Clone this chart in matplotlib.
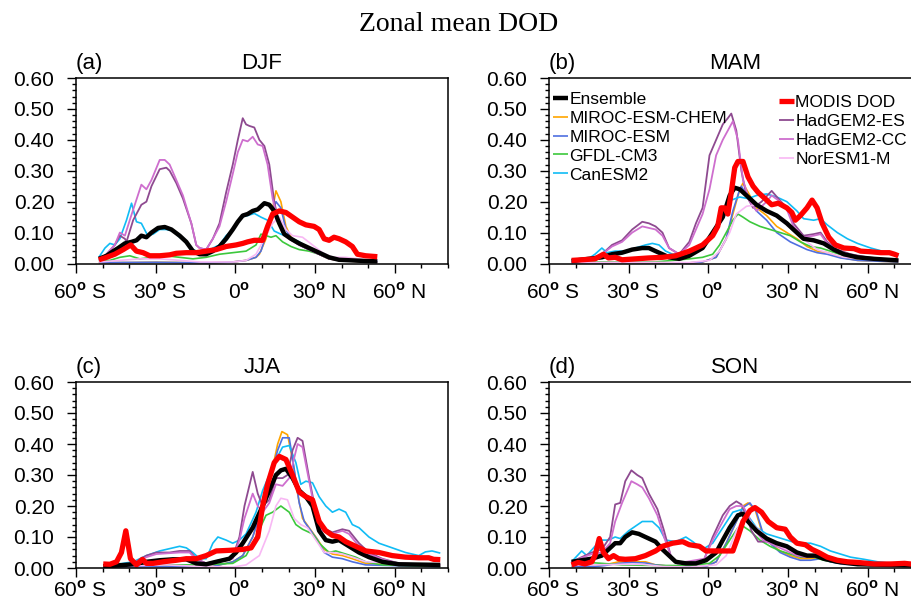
import matplotlib
matplotlib.use('Agg')
import matplotlib.pyplot as plt
import matplotlib.transforms as mtransforms
from matplotlib.ticker import MultipleLocator, FixedLocator

plt.rcParams['font.family'] = ['Liberation Sans', 'DejaVu Sans']
plt.rcParams['mathtext.fontset'] = 'custom'
plt.rcParams['mathtext.rm'] = 'Liberation Sans'
plt.rcParams['mathtext.bf'] = 'Liberation Sans:bold'

# ---------------- data: (latitude, DOD) pairs ----------------
# DJF
DJF_ES = [(-51.4,0.01),(-48.5,0.03),(-45.4,0.06),(-43.5,0.09),(-41.6,0.08),(-41,0.07),(-38.5,0.14),(-35.4,0.19),(-33.5,0.20),(-31.6,0.25),(-28.5,0.305),(-26,0.31),(-24.75,0.30),(-22.25,0.26),(-19.75,0.21),(-16.6,0.13),(-14.75,0.06),(-13.5,0.05),(-11,0.045),(-8.5,0.08),(-6,0.13),(-3.5,0.23),(-1,0.32),(0.9,0.40),(2.75,0.47),(4,0.45),(5.25,0.445),(7.1,0.44),(9,0.40),(10.9,0.38),(12.75,0.32),(14.6,0.20),(15.9,0.15),(17.75,0.10),(20.25,0.08),(24,0.06),(27.75,0.045),(31.5,0.03),(35.25,0.015),(39,0.01),(44,0.008),(49,0.005),(53.4,0.005)]
DJF_CC = [(-51.4,0.01),(-48.5,0.03),(-45.4,0.06),(-43.5,0.10),(-41.6,0.09),(-39.4,0.15),(-35.4,0.255),(-33.5,0.24),(-31.6,0.27),(-28.5,0.335),(-26.6,0.335),(-24.75,0.32),(-22.25,0.27),(-19.75,0.22),(-16.6,0.13),(-14.75,0.06),(-13.5,0.05),(-11,0.045),(-8.5,0.08),(-6,0.12),(-3.5,0.20),(-1,0.29),(0.9,0.36),(2.75,0.40),(4.6,0.395),(6.5,0.41),(8.4,0.385),(10.25,0.38),(12.1,0.32),(14,0.21),(15.9,0.14),(17.75,0.10),(20.25,0.08),(24,0.06),(27.75,0.045),(31.5,0.03),(35.25,0.016),(39,0.012),(44,0.01),(49,0.006),(53.4,0.005)]
DJF_ENS = [(-51.4,0.015),(-48.5,0.025),(-46,0.04),(-44.1,0.05),(-41.6,0.065),(-39.1,0.07),(-37.25,0.075),(-35.4,0.09),(-33.5,0.085),(-31.6,0.10),(-29.1,0.115),(-26.6,0.118),(-24.1,0.11),(-21,0.09),(-18.5,0.07),(-16,0.04),(-13.5,0.03),(-11,0.03),(-8.5,0.04),(-6,0.055),(-3.5,0.08),(-1,0.11),(0.9,0.135),(2.75,0.155),(4.6,0.16),(6.5,0.17),(8.4,0.175),(10.9,0.195),(12.75,0.19),(14.6,0.17),(16.5,0.13),(18.4,0.095),(20.9,0.08),(24,0.065),(27.75,0.05),(31.5,0.035),(35.25,0.02),(39,0.012),(44,0.01),(49,0.008),(53.4,0.007)]
DJF_CAN = [(-51.4,0.02),(-49.1,0.05),(-47.25,0.065),(-45.4,0.06),(-43.5,0.08),(-41,0.14),(-39.1,0.195),(-37.25,0.135),(-35.4,0.13),(-33,0.09),(-31,0.095),(-28.5,0.11),(-26,0.11),(-23.5,0.105),(-21,0.085),(-18.5,0.07),(-16,0.045),(-13.5,0.035),(-11,0.035),(-8.5,0.05),(-6,0.06),(-3.5,0.09),(-1,0.11),(2.1,0.15),(4.6,0.155),(7.1,0.162),(9.6,0.15),(12.1,0.14),(14.6,0.105),(17.1,0.095),(20.25,0.085),(24,0.07),(27.75,0.05),(31.5,0.035),(35.25,0.02),(40.25,0.012),(53.4,0.007)]
DJF_MODIS = [(-51.4,0.012),(-48.5,0.02),(-45.4,0.03),(-42.25,0.045),(-39.4,0.06),(-37.25,0.04),(-34.75,0.035),(-32.25,0.025),(-28.5,0.025),(-24.75,0.028),(-22.25,0.033),(-18.5,0.035),(-14.75,0.035),(-11,0.04),(-7.25,0.045),(-3.5,0.055),(0.25,0.06),(2.75,0.065),(4.6,0.07),(7.1,0.075),(10.25,0.075),(12.1,0.12),(14,0.16),(16.5,0.17),(19,0.165),(21.5,0.15),(24,0.135),(26.5,0.125),(29.6,0.12),(31.5,0.11),(33.4,0.08),(35.25,0.075),(37.1,0.085),(39,0.08),(41.5,0.07),(44,0.055),(45.9,0.03),(49,0.025),(53.4,0.022)]
DJF_CHEM = [(-51.4,0.003),(-40,0.003),(-30,0.004),(-20,0.003),(-10,0.002),(-1,0.005),(4,0.01),(7.75,0.02),(9,0.03),(11.5,0.08),(13.4,0.15),(15.25,0.235),(17.1,0.20),(19,0.12),(20.9,0.085),(24,0.065),(27.75,0.045),(31.5,0.03),(35.25,0.015),(41.5,0.008),(53.4,0.005)]
DJF_MIROC = [(-51.4,0.003),(-30,0.004),(-10,0.002),(-1,0.005),(4,0.01),(7.75,0.02),(9.6,0.04),(11.5,0.09),(13.4,0.15),(15.25,0.20),(17.1,0.18),(19,0.11),(20.9,0.08),(24,0.06),(27.75,0.045),(31.5,0.03),(35.25,0.018),(41.5,0.01),(53.4,0.006)]
DJF_GFDL = [(-51.4,0.01),(-47.25,0.01),(-43.5,0.02),(-39.75,0.025),(-36,0.015),(-31,0.02),(-26,0.025),(-21,0.02),(-16,0.015),(-11,0.02),(-6,0.03),(-1,0.035),(4,0.04),(7.75,0.06),(9.6,0.095),(11.5,0.09),(13.4,0.085),(15.25,0.09),(17.75,0.07),(20.9,0.055),(24,0.045),(27.75,0.04),(31.5,0.03),(35.25,0.015),(44,0.008),(53.4,0.005)]
DJF_NOR = [(-51.4,0.005),(-43.5,0.01),(-36,0.015),(-28.5,0.015),(-21,0.01),(-13.5,0.005),(-1,0.005),(4,0.01),(7.75,0.03),(11.5,0.09),(14,0.13),(16.5,0.15),(19,0.11),(21.5,0.09),(25.25,0.085),(29,0.06),(32.75,0.035),(36.5,0.02),(41.5,0.02),(49,0.012),(53.4,0.01)]

# MAM
MAM_MODIS = [(-51.5,0.01),(-47.7,0.012),(-42.7,0.015),(-39.5,0.03),(-37.6,0.018),(-35.1,0.02),(-32.5,0.012),(-27.5,0.015),(-22.4,0.018),(-17.3,0.02),(-12.3,0.025),(-7.2,0.04),(-2.2,0.06),(1.6,0.09),(3.5,0.12),(4.8,0.18),(6.1,0.18),(7.3,0.16),(8.6,0.23),(9.9,0.31),(11.1,0.33),(13,0.33),(14.9,0.28),(16.8,0.25),(18.7,0.23),(21.3,0.21),(23.8,0.19),(26.3,0.195),(29.5,0.18),(31.4,0.165),(32.7,0.14),(34.6,0.155),(37.1,0.18),(39,0.205),(40.9,0.18),(42.8,0.13),(45.3,0.085),(47.8,0.06),(51,0.05),(54.8,0.048),(57.3,0.04),(61.1,0.038),(64.9,0.035),(68.1,0.035),(70,0.03),(71.5,0.025)]
MAM_ENS = [(-51.5,0.008),(-45.2,0.015),(-40.1,0.02),(-36.3,0.03),(-32.5,0.035),(-28.7,0.045),(-24.9,0.05),(-22.4,0.05),(-19.9,0.04),(-17.3,0.03),(-14.8,0.02),(-11,0.015),(-7.2,0.025),(-2.2,0.05),(1.6,0.10),(5.4,0.15),(8,0.22),(9.9,0.245),(11.8,0.24),(13.7,0.225),(15.6,0.21),(18.1,0.19),(21.9,0.17),(25.7,0.155),(29.5,0.13),(32,0.11),(35.8,0.08),(39.6,0.075),(43.4,0.065),(47.2,0.045),(51,0.03),(56.1,0.02),(62.4,0.015),(71.5,0.01)]
MAM_ES = [(-51.5,0.005),(-45.2,0.01),(-40.1,0.03),(-36.3,0.06),(-32.5,0.075),(-28.7,0.11),(-24.9,0.135),(-22.4,0.13),(-19.9,0.12),(-17.3,0.10),(-14.8,0.05),(-11,0.03),(-7.2,0.07),(-4.7,0.13),(-2.2,0.18),(0.4,0.35),(2.9,0.40),(5.4,0.45),(7.3,0.47),(8.6,0.485),(10.5,0.43),(12.4,0.30),(14.3,0.22),(16.8,0.18),(20,0.20),(23.8,0.235),(26.3,0.21),(29.5,0.18),(32,0.13),(35.8,0.09),(39.6,0.095),(42.2,0.10),(44.7,0.07),(48.5,0.045),(53.5,0.03),(59.9,0.02),(71.5,0.01)]
MAM_CC = [(-51.5,0.005),(-45.2,0.01),(-40.1,0.03),(-36.3,0.055),(-32.5,0.07),(-28.7,0.10),(-24.9,0.12),(-19.9,0.11),(-17.3,0.09),(-14.8,0.05),(-11,0.03),(-7.2,0.06),(-2.2,0.16),(0.4,0.24),(2.9,0.35),(5.4,0.40),(7.3,0.43),(9.2,0.46),(11.1,0.40),(13,0.27),(15.6,0.20),(18.1,0.17),(21.9,0.20),(23.8,0.22),(27,0.20),(29.5,0.175),(32,0.12),(35.8,0.085),(39.6,0.09),(42.2,0.095),(44.7,0.065),(48.5,0.042),(53.5,0.028),(59.9,0.018),(71.5,0.01)]
MAM_CAN = [(-51.5,0.01),(-45.2,0.015),(-42.7,0.03),(-40.1,0.05),(-38.2,0.035),(-35.1,0.04),(-31.3,0.04),(-27.5,0.05),(-23.7,0.06),(-21.1,0.065),(-18.6,0.06),(-16.1,0.04),(-13.5,0.03),(-9.7,0.03),(-5.9,0.04),(-2.2,0.06),(1.6,0.10),(5.4,0.17),(8.6,0.205),(11.8,0.215),(14.9,0.21),(18.1,0.22),(21.9,0.225),(25.7,0.215),(29.5,0.20),(33.3,0.17),(35.8,0.145),(39.6,0.14),(42.2,0.145),(44.7,0.125),(48.5,0.10),(52.3,0.08),(56.1,0.065),(61.1,0.05),(66.2,0.038),(71.5,0.025)]
MAM_GFDL = [(-51.5,0.005),(-32.5,0.005),(-19.9,0.005),(-13.5,0.01),(-7.2,0.015),(-2.2,0.02),(1.6,0.03),(4.2,0.06),(6.7,0.10),(9.2,0.14),(11.1,0.16),(13,0.15),(15.6,0.135),(19.4,0.12),(23.2,0.11),(27,0.10),(30.8,0.09),(34.6,0.07),(38.4,0.055),(42.2,0.05),(45.9,0.04),(51,0.025),(58.6,0.015),(71.5,0.01)]
MAM_CHEM = [(-51.5,0.002),(-30,0.003),(-7.2,0.002),(-2.2,0.005),(2.9,0.02),(6.7,0.08),(9.2,0.16),(11.8,0.24),(13,0.26),(15.6,0.22),(18.1,0.18),(21.9,0.155),(25.7,0.12),(29.5,0.10),(33.3,0.08),(37.1,0.055),(40.9,0.04),(44.7,0.035),(49.7,0.02),(56.1,0.01),(71.5,0.005)]
MAM_MIROC = [(-51.5,0.002),(-30,0.003),(-7.2,0.002),(-2.2,0.005),(2.9,0.02),(6.7,0.08),(9.2,0.17),(11.8,0.24),(12.4,0.25),(15,0.21),(18.1,0.17),(21.9,0.14),(25.7,0.10),(30.8,0.07),(37.1,0.045),(40.9,0.035),(44.7,0.03),(49.7,0.018),(56.1,0.01),(71.5,0.005)]
MAM_NOR = [(-51.5,0.003),(-30,0.004),(-7.2,0.003),(0.4,0.01),(4.2,0.04),(8,0.10),(10.5,0.16),(14.3,0.185),(18.1,0.19),(21.9,0.17),(25.7,0.15),(29.5,0.13),(33.3,0.10),(37.1,0.07),(40.9,0.045),(44.7,0.035),(51,0.02),(71.5,0.008)]

# JJA
JJA_MODIS = [(-49.75,0.013),(-47.25,0.012),(-44.75,0.02),(-42.9,0.05),(-41.25,0.12),(-39.5,0.03),(-37.25,0.01),(-35,0.028),(-33.5,0.015),(-31,0.015),(-27.25,0.02),(-22.25,0.025),(-18.5,0.03),(-14.75,0.03),(-11,0.04),(-7.25,0.055),(-2.25,0.057),(2.75,0.06),(5.9,0.065),(8.4,0.10),(10.25,0.20),(12.1,0.27),(14.6,0.34),(16.5,0.36),(19,0.35),(21.5,0.30),(24,0.245),(26.5,0.23),(29,0.22),(31.5,0.15),(34,0.12),(36.5,0.105),(39,0.10),(41.5,0.085),(44,0.075),(46.5,0.065),(49,0.055),(54,0.05),(59,0.04),(64,0.035),(69,0.033),(72.75,0.033),(74.6,0.028),(77.1,0.027)]
JJA_ENS = [(-49.75,0.005),(-44.75,0.008),(-38.5,0.012),(-33.5,0.02),(-28.5,0.025),(-23.5,0.028),(-18.5,0.028),(-14.75,0.015),(-11,0.012),(-7.25,0.02),(-2.25,0.03),(0.25,0.05),(2.75,0.08),(6.5,0.13),(10.25,0.20),(12.75,0.25),(15.25,0.30),(17.1,0.315),(19,0.32),(21.5,0.29),(24,0.25),(26.5,0.23),(29,0.20),(31.5,0.12),(34,0.09),(36.5,0.085),(39,0.09),(42.75,0.07),(46.5,0.05),(50.25,0.035),(55.25,0.02),(61.5,0.012),(77.1,0.01)]
JJA_ES = [(-49.75,0.005),(-38.5,0.015),(-33.5,0.04),(-29.75,0.05),(-24.75,0.05),(-21,0.055),(-17.25,0.055),(-14.75,0.03),(-11,0.015),(-6,0.025),(-1,0.035),(1.5,0.10),(3.4,0.20),(6.5,0.31),(8.4,0.24),(10.25,0.20),(12.75,0.22),(15.25,0.29),(17.75,0.29),(19.6,0.30),(21.5,0.38),(23.4,0.42),(25.25,0.41),(27.75,0.29),(30.25,0.18),(32.75,0.13),(36.5,0.115),(40.25,0.125),(42.75,0.12),(46.5,0.08),(50.25,0.05),(55.25,0.03),(61.5,0.015),(77.1,0.01)]
JJA_CC = [(-49.75,0.005),(-38.5,0.015),(-33.5,0.035),(-29.75,0.045),(-21,0.05),(-17.25,0.05),(-14.75,0.028),(-11,0.015),(-6,0.023),(-1,0.03),(1.5,0.09),(3.4,0.16),(6.5,0.24),(8.4,0.20),(10.25,0.18),(12.75,0.21),(15.25,0.27),(17.75,0.265),(20.25,0.29),(23.4,0.40),(25.25,0.39),(27.75,0.28),(30.25,0.17),(32.75,0.12),(36.5,0.11),(40.25,0.12),(42.75,0.11),(46.5,0.07),(50.25,0.045),(55.25,0.028),(61.5,0.014),(77.1,0.009)]
JJA_CAN = [(-49.75,0.005),(-38.5,0.02),(-33.5,0.04),(-28.5,0.055),(-23.5,0.065),(-21,0.07),(-18.5,0.065),(-16,0.05),(-13.5,0.03),(-11,0.03),(-8.5,0.08),(-6.6,0.10),(-3.5,0.09),(-1,0.08),(1.5,0.09),(4,0.11),(7.75,0.18),(10.25,0.25),(12.75,0.30),(15.25,0.35),(17.75,0.39),(20.25,0.395),(22.75,0.34),(24.6,0.27),(26.5,0.28),(29,0.275),(31.5,0.23),(34,0.20),(36.5,0.18),(39,0.19),(41.5,0.18),(44,0.14),(46.5,0.13),(50.25,0.10),(54,0.08),(59,0.065),(64,0.05),(69,0.04),(71.5,0.052),(74,0.055),(77.1,0.048)]
JJA_CHEM = [(-49.75,0.003),(-30,0.006),(-20,0.005),(-8.5,0.005),(-6,0.01),(-1,0.02),(2.75,0.04),(6.5,0.10),(10.25,0.20),(13.4,0.30),(15.9,0.40),(17.5,0.44),(19.6,0.43),(21.5,0.35),(23.4,0.24),(25.25,0.16),(27.75,0.13),(30.25,0.10),(33.4,0.06),(36.5,0.045),(40.25,0.04),(44,0.03),(49,0.015),(77.1,0.005)]
JJA_MIROC = [(-49.75,0.003),(-30,0.005),(-20,0.004),(-8.5,0.005),(-6,0.01),(-1,0.02),(2.75,0.04),(6.5,0.10),(10.25,0.20),(13.4,0.30),(15.9,0.38),(17.75,0.42),(20.25,0.42),(22.1,0.32),(24,0.21),(25.9,0.15),(28.4,0.12),(30.9,0.09),(33.4,0.05),(36.5,0.035),(40.25,0.03),(44,0.02),(49,0.01),(77.1,0.004)]
JJA_GFDL = [(-49.75,0.01),(-44.75,0.015),(-38.5,0.01),(-26,0.01),(-13.5,0.01),(-1,0.015),(4,0.04),(7.75,0.10),(11.5,0.17),(14,0.18),(17.1,0.20),(20.25,0.18),(22.75,0.14),(25.25,0.125),(29,0.11),(31.5,0.08),(35.25,0.05),(37.75,0.055),(41.5,0.045),(45.25,0.035),(49,0.02),(55.25,0.01),(77.1,0.005)]
JJA_NOR = [(-49.75,0.005),(-26,0.01),(-13.5,0.005),(-1,0.003),(4,0.01),(9,0.04),(12.75,0.12),(15.25,0.20),(17.1,0.225),(19.6,0.22),(22.1,0.16),(24.6,0.14),(27.1,0.13),(30.25,0.09),(33.4,0.05),(36.5,0.05),(40.25,0.045),(44,0.035),(49,0.02),(77.1,0.008)]

# SON
SON_MODIS = [(-51.5,0.01),(-49,0.018),(-46.5,0.013),(-43.9,0.02),(-42.7,0.04),(-41.1,0.095),(-39.5,0.05),(-37.6,0.03),(-35.7,0.04),(-33.8,0.03),(-31.3,0.028),(-27.5,0.03),(-23.7,0.04),(-19.9,0.055),(-17.3,0.07),(-13.5,0.08),(-9.7,0.085),(-7.2,0.075),(-3.4,0.07),(-0.9,0.055),(2.9,0.055),(6.7,0.055),(9.2,0.055),(11.1,0.10),(13,0.15),(15.6,0.185),(17.5,0.195),(20,0.18),(22.5,0.15),(25.7,0.13),(28.9,0.125),(30.8,0.10),(33.3,0.08),(36.5,0.075),(39,0.06),(41.5,0.05),(44.7,0.035),(48.5,0.025),(52.3,0.02),(56.1,0.018),(62.4,0.013),(68.7,0.013),(73.8,0.015),(77.1,0.012),(80,0.012)]
SON_ENS = [(-51.5,0.02),(-47.7,0.025),(-43.9,0.03),(-40.1,0.04),(-37.6,0.06),(-35.1,0.08),(-33.2,0.08),(-31.3,0.10),(-28.7,0.115),(-26.2,0.11),(-23.7,0.10),(-19.9,0.085),(-17.3,0.06),(-14.8,0.04),(-12.3,0.02),(-8.5,0.015),(-4.7,0.015),(-0.9,0.025),(2.9,0.05),(5.4,0.09),(8,0.13),(11.1,0.17),(13,0.175),(14.9,0.15),(18.1,0.12),(21.9,0.095),(25.7,0.08),(29.5,0.07),(33.3,0.05),(37.1,0.04),(40.3,0.04),(43.4,0.03),(48.5,0.02),(56.1,0.012),(80,0.008)]
SON_ES = [(-51.5,0.02),(-47.7,0.035),(-43.9,0.05),(-40.1,0.06),(-37,0.10),(-35.1,0.205),(-33.2,0.21),(-31.3,0.28),(-29,0.315),(-26.8,0.30),(-24.9,0.29),(-22.4,0.24),(-19.2,0.19),(-16.7,0.12),(-14.2,0.04),(-11.6,0.015),(-8.5,0.02),(-4.7,0.015),(-1.5,0.03),(1.6,0.10),(5.4,0.17),(8,0.20),(10.5,0.215),(12.4,0.205),(14.3,0.17),(16.2,0.12),(18.7,0.085),(21.9,0.085),(25.7,0.075),(29.5,0.06),(33.3,0.04),(37.1,0.035),(40.9,0.04),(44.7,0.025),(49.7,0.015),(80,0.005)]
SON_CC = [(-51.5,0.02),(-43.9,0.045),(-40.1,0.05),(-37,0.08),(-35.1,0.15),(-32.5,0.21),(-29,0.28),(-26.8,0.27),(-24.9,0.26),(-22.4,0.225),(-19.2,0.17),(-16.7,0.10),(-14.2,0.04),(-11.6,0.015),(-8.5,0.02),(-1.5,0.03),(1.6,0.09),(5.4,0.15),(8,0.19),(10.5,0.20),(13,0.20),(14.9,0.17),(17.5,0.12),(20.6,0.09),(25.7,0.07),(29.5,0.055),(33.3,0.04),(37.1,0.035),(40.9,0.038),(44.7,0.025),(49.7,0.015),(80,0.005)]
SON_CAN = [(-51.5,0.02),(-47.7,0.055),(-45.8,0.04),(-42.7,0.07),(-40.1,0.09),(-37.6,0.09),(-35.1,0.10),(-33.2,0.095),(-30,0.12),(-24.9,0.15),(-21.1,0.15),(-18.6,0.13),(-16.1,0.09),(-12.3,0.085),(-8.5,0.10),(-5.9,0.085),(-2.2,0.06),(1.6,0.08),(5.4,0.13),(9.2,0.18),(13,0.19),(15.6,0.16),(18.1,0.13),(21.9,0.11),(25.7,0.10),(29.5,0.09),(33.3,0.08),(38.4,0.08),(42.2,0.07),(45.9,0.055),(49.7,0.045),(53.5,0.035),(58.6,0.028),(63.7,0.02),(68.7,0.015),(77.1,0.012),(80,0.012)]
SON_CHEM = [(-51.5,0.005),(-42.7,0.005),(-39,0.01),(-33.8,0.02),(-28.7,0.02),(-23.7,0.02),(-19.9,0.01),(-13.5,0.005),(-0.9,0.005),(2.9,0.02),(6.7,0.08),(10.5,0.15),(13,0.20),(14.9,0.21),(17.5,0.19),(20,0.12),(23.2,0.08),(27,0.055),(30.8,0.04),(34.6,0.03),(38.4,0.03),(42.2,0.035),(45.9,0.025),(51,0.015),(80,0.005)]
SON_MIROC = [(-51.5,0.005),(-42.7,0.005),(-39,0.008),(-33.8,0.015),(-28.7,0.018),(-23.7,0.016),(-19.9,0.01),(-13.5,0.005),(-0.9,0.005),(2.9,0.02),(6.7,0.08),(10.5,0.15),(13,0.195),(15.6,0.21),(18.1,0.18),(20.6,0.11),(23.8,0.075),(27,0.05),(30.8,0.035),(34.6,0.025),(38.4,0.025),(42.2,0.03),(45.9,0.02),(51,0.012),(80,0.004)]
SON_GFDL = [(-51.5,0.01),(-45.2,0.018),(-40.1,0.015),(-32.5,0.01),(-19.9,0.008),(-7.2,0.008),(0.4,0.015),(4.2,0.04),(8,0.09),(11.1,0.13),(13,0.135),(15.6,0.12),(19.4,0.09),(23.2,0.07),(27,0.055),(30.8,0.045),(34.6,0.035),(39.6,0.035),(43.4,0.025),(49.7,0.015),(80,0.008)]
SON_NOR = [(-51.5,0.01),(-42.7,0.01),(-32.5,0.012),(-24.9,0.012),(-17.3,0.005),(-7.2,0.003),(2.9,0.01),(6.7,0.04),(10.5,0.12),(13.7,0.17),(16.8,0.14),(20.6,0.11),(24.4,0.08),(28.2,0.065),(32,0.05),(35.8,0.04),(40.9,0.04),(45.9,0.025),(80,0.008)]

seasons = ['DJF', 'MAM', 'JJA', 'SON']
panel_tags = ['(a)', '(b)', '(c)', '(d)']
series_names = ['MIROC-ESM-CHEM', 'MIROC-ESM', 'GFDL-CM3', 'CanESM2',
                'HadGEM2-ES', 'HadGEM2-CC', 'NorESM1-M', 'Ensemble', 'MODIS DOD']
series_keys = ['CHEM', 'MIROC', 'GFDL', 'CAN', 'ES', 'CC', 'NOR', 'ENS', 'MODIS']
xtick_vals = [-60, -30, 0, 30, 60]
xtick_labels = ['60$^{\\mathbf{o}}$ S', '30$^{\\mathbf{o}}$ S', '0$^{\\mathbf{o}}$',
                '30$^{\\mathbf{o}}$ N', '60$^{\\mathbf{o}}$ N']
ytick_vals = [0.0, 0.1, 0.2, 0.3, 0.4, 0.5, 0.6]

styles = {
    'CHEM':  dict(color='#FFA500', lw=1.2),
    'MIROC': dict(color='#4F6FE0', lw=1.2),
    'GFDL':  dict(color='#3CC83C', lw=1.2),
    'CAN':   dict(color='#10BCF5', lw=1.2),
    'ES':    dict(color='#8E4A90', lw=1.3),
    'CC':    dict(color='#CE6ECE', lw=1.3),
    'NOR':   dict(color='#F8B8F4', lw=1.2),
    'ENS':   dict(color='black', lw=3.2),
    'MODIS': dict(color='#FF0000', lw=3.8),
}

data = {s: {k: globals()[f'{s}_{k}'] for k in series_keys} for s in seasons}

W, H = 911, 602
fig = plt.figure(figsize=(W / 100, H / 100), dpi=100)

# axes boxes in pixels: (left, top, width, height)
boxes = [(76, 78, 372, 185.5), (549, 78, 372, 185.5),
         (76, 382, 372, 186), (549, 382, 372, 186)]
xpads = [6.5, 6.5, 2.5, 2.5]

TICK_FS = 15
TITLE_FS = 16
LEG_FS = 12.5

for i, s in enumerate(seasons):
    l, t, w, h = boxes[i]
    ax = fig.add_axes([l / W, 1 - (t + h) / H, w / W, h / H])
    lines = {}
    for k, name in zip(series_keys, series_names):
        pts = data[s][k]
        xs = [p[0] for p in pts]
        ys = [p[1] for p in pts]
        ln, = ax.plot(xs, ys, label=name, solid_joinstyle='round',
                      solid_capstyle='butt', **styles[k])
        lines[k] = ln
    ax.set_xlim(-60, 80)
    ax.set_ylim(0, 0.6)
    ax.xaxis.set_major_locator(FixedLocator(xtick_vals))
    ax.set_xticklabels(xtick_labels)
    ax.xaxis.set_minor_locator(MultipleLocator(10))
    ax.yaxis.set_major_locator(FixedLocator(ytick_vals))
    ax.set_yticklabels([f'{v:.2f}' for v in ytick_vals])
    ax.yaxis.set_minor_locator(MultipleLocator(0.02))
    ax.tick_params(which='both', direction='out', top=False, right=False,
                   labelsize=TICK_FS, width=1.0, color='black')
    ax.tick_params(which='major', length=6.5)
    ax.tick_params(which='minor', length=3.2)
    ax.tick_params(axis='x', which='major', pad=xpads[i])
    ax.tick_params(axis='y', which='major', pad=9)
    for sp in ax.spines.values():
        sp.set_linewidth(1.1)
    off = mtransforms.ScaledTranslation(4 / 100, 0, fig.dpi_scale_trans)
    for lab in ax.get_xticklabels():
        lab.set_transform(lab.get_transform() + off)
    ax.set_title(s, fontsize=TITLE_FS, pad=6.5)
    ax.set_title(panel_tags[i], loc='left', fontsize=TITLE_FS, pad=6.5)
    if s == 'MAM':
        left_keys = ['ENS', 'CHEM', 'MIROC', 'GFDL', 'CAN']
        right_keys = ['MODIS', 'ES', 'CC', 'NOR']
        common = dict(loc='upper left', bbox_transform=fig.transFigure,
                      frameon=False, fontsize=LEG_FS, handlelength=0.85,
                      handletextpad=0.08, labelspacing=0.22, borderpad=0,
                      borderaxespad=0)
        fig.legend([lines[k] for k in left_keys],
                   [series_names[series_keys.index(k)] for k in left_keys],
                   bbox_to_anchor=(553 / W, 1 - 91.5 / H), **common)
        fig.legend([lines[k] for k in right_keys],
                   [series_names[series_keys.index(k)] for k in right_keys],
                   bbox_to_anchor=(779 / W, 1 - 95 / H), **common)

fig.text(459 / W, 1 - 31 / H, 'Zonal mean DOD', ha='center', va='baseline',
         fontsize=20, family=['Liberation Serif', 'DejaVu Serif'])

fig.savefig('out.png', dpi=100)
